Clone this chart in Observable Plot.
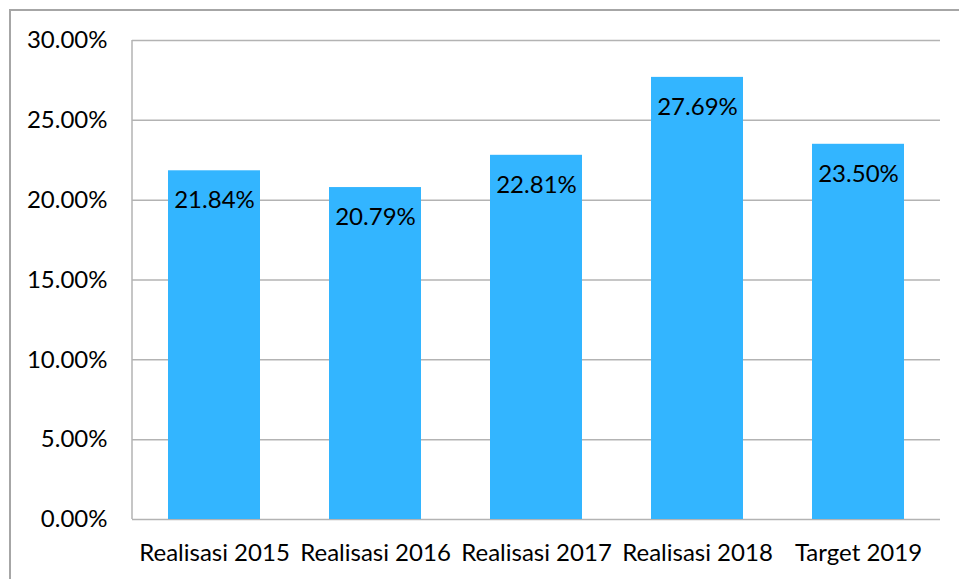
<!DOCTYPE html>
<html><head><meta charset="utf-8">
<script src="https://cdn.jsdelivr.net/npm/d3@7"></script>
<script src="https://cdn.jsdelivr.net/npm/@observablehq/plot@0.6"></script>
<style>
html,body{margin:0;padding:0;background:#fff;overflow:hidden}
#wrap{position:relative;width:959px;height:579px}
#border{position:absolute;left:9px;top:9px;width:980px;height:600px;border:2px solid #a6a6a6;box-sizing:border-box}
#chart{position:absolute;left:0;top:0}
</style></head>
<body><div id="wrap"><div id="border"></div><div id="chart"></div></div>
<script>
const categories = ["Realisasi 2015","Realisasi 2016","Realisasi 2017","Realisasi 2018","Target 2019"];
const values = [21.84, 20.79, 22.81, 27.69, 23.50];
const yTicks = [0, 5, 10, 15, 20, 25, 30];

const data = categories.map((c, i) => ({cat: c, v: values[i]}));
const font = "Lato, 'Open Sans', sans-serif";

const leftLine = (index, scales, values, dims) => {
  const l = document.createElementNS("http://www.w3.org/2000/svg", "line");
  l.setAttribute("x1", dims.marginLeft); l.setAttribute("x2", dims.marginLeft);
  l.setAttribute("y1", scales.y(30)); l.setAttribute("y2", scales.y(0));
  l.setAttribute("stroke", "#b3b3b3"); l.setAttribute("stroke-width", 1.5);
  return l;
};

const chart = Plot.plot({
  width: 959, height: 579,
  marginLeft: 132, marginRight: 19, marginTop: 40, marginBottom: 60,
  style: {fontFamily: font, fontSize: "24px", color: "#000", background: "transparent"},
  x: {domain: categories, paddingInner: 0.43, paddingOuter: 0.215, label: null, tickSize: 0, tickPadding: 24},
  y: {domain: [0, 30], ticks: yTicks, label: null, tickSize: 0, tickPadding: 25,
      tickFormat: d => d.toFixed(2) + "%"},
  marks: [
    Plot.ruleY(yTicks, {stroke: "#b3b3b3", strokeWidth: 1.5}),
    leftLine,
    Plot.barY(data, {x: "cat", y: "v", fill: "#33b5ff"}),
    Plot.text(data, {x: "cat", y: "v", text: d => d.v.toFixed(2) + "%", dy: 30,
      fontSize: 24, fill: "#000"})
  ]
});
document.getElementById("chart").appendChild(chart);
</script></body></html>
